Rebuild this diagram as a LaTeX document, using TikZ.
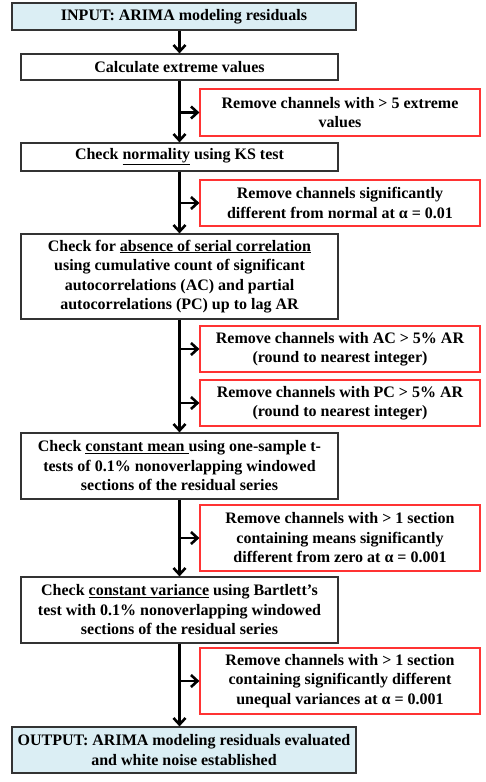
\documentclass[tikz,border=0pt]{standalone}
\usepackage{fontspec}
\setmainfont{Liberation Serif}
\usepackage{tikz}
\usetikzlibrary{arrows.meta}
\definecolor{ioblue}{HTML}{DBEEF4}
\definecolor{rmred}{HTML}{FF3333}

\begin{document}
\begin{tikzpicture}[x = 1pt, y = -1pt,
  font = \fontsize{16}{19.5}\selectfont\bfseries,
  box/.style = {draw = black!80, line width = 1.2pt, inner sep = 0pt, align = center},
  io/.style = {box, fill = ioblue, minimum width = 344pt},
  check/.style = {box, minimum width = 317pt},
  remove/.style = {box, draw = rmred, minimum width = 280pt},
  flow/.style = {line width = 2.6pt, -{Straight Barb[length = 6.5pt, width = 12pt]}}]
 \useasboundingbox (0, 0) rectangle (485, 782);
  % main column
  \node[io, minimum height = 27pt] (input) at (184, 16.5) {INPUT: ARIMA modeling residuals};
  \node[check, minimum height = 26pt] (calc) at (179.5, 67) {Calculate extreme values};
  \node[check, minimum height = 28pt] (norm) at (179.5, 157) {Check \underline{normality} using KS test};
  \node[check, minimum height = 85pt] (serial) at (179.5, 276.5) {Check for \underline{absence of serial correlation}\\
    using cumulative count of significant\\ autocorrelations (AC) and partial\\ autocorrelations (PC) up to lag AR};
  \node[check, minimum height = 66pt] (mean) at (179.5, 466) {Check \underline{constant mean }using one-sample t-\\
    tests of 0.1\% nonoverlapping windowed\\ sections of the residual series};
  \node[check, minimum height = 66pt] (var) at (179.5, 610) {Check \underline{constant variance} using Bartlett’s\\
    test with 0.1\% nonoverlapping windowed\\ sections of the residual series};
  \node[io, minimum height = 46pt] (output) at (184, 750) {OUTPUT: ARIMA modeling residuals evaluated\\ and white noise established};
  % removal boxes
  \node[remove, minimum height = 47pt] (rmext) at (340, 112.5) {Remove channels with > 5 extreme\\ values};
  \node[remove, minimum height = 46pt] (rmnorm) at (340, 203) {Remove channels significantly\\ different from normal at α = 0.01};
  \node[remove, minimum height = 46pt] (rmac) at (340, 349) {Remove channels with AC > 5\% AR\\ (round to nearest integer)};
  \node[remove, minimum height = 46pt] (rmpc) at (340, 403) {Remove channels with PC > 5\% AR\\ (round to nearest integer)};
  \node[remove, minimum height = 66pt] (rmmean) at (340, 538) {Remove channels with > 1 section\\
    containing means significantly\\ different from zero at α = 0.001};
  \node[remove, minimum height = 66pt] (rmvar) at (340, 681) {Remove channels with > 1 section\\
    containing significantly different\\ unequal variances at α = 0.001};
  % spine
  \draw[flow] (calc.north |- input.south) -- (calc.north);
  \draw[flow] (calc) -- (norm);
  \draw[flow] (norm) -- (serial);
  \draw[flow] (serial) -- (mean);
  \draw[flow] (mean) -- (var);
  \draw[flow] (var.south) -- (var.south |- output.north);
  % branches
  \foreach \rm/\src in {rmext/calc, rmnorm/norm, rmac/serial, rmpc/serial, rmmean/mean, rmvar/var}{
  \draw[flow] (\src.south |- \rm.west) -- (\rm.west);
  }
 \end{tikzpicture}
\end{document}
